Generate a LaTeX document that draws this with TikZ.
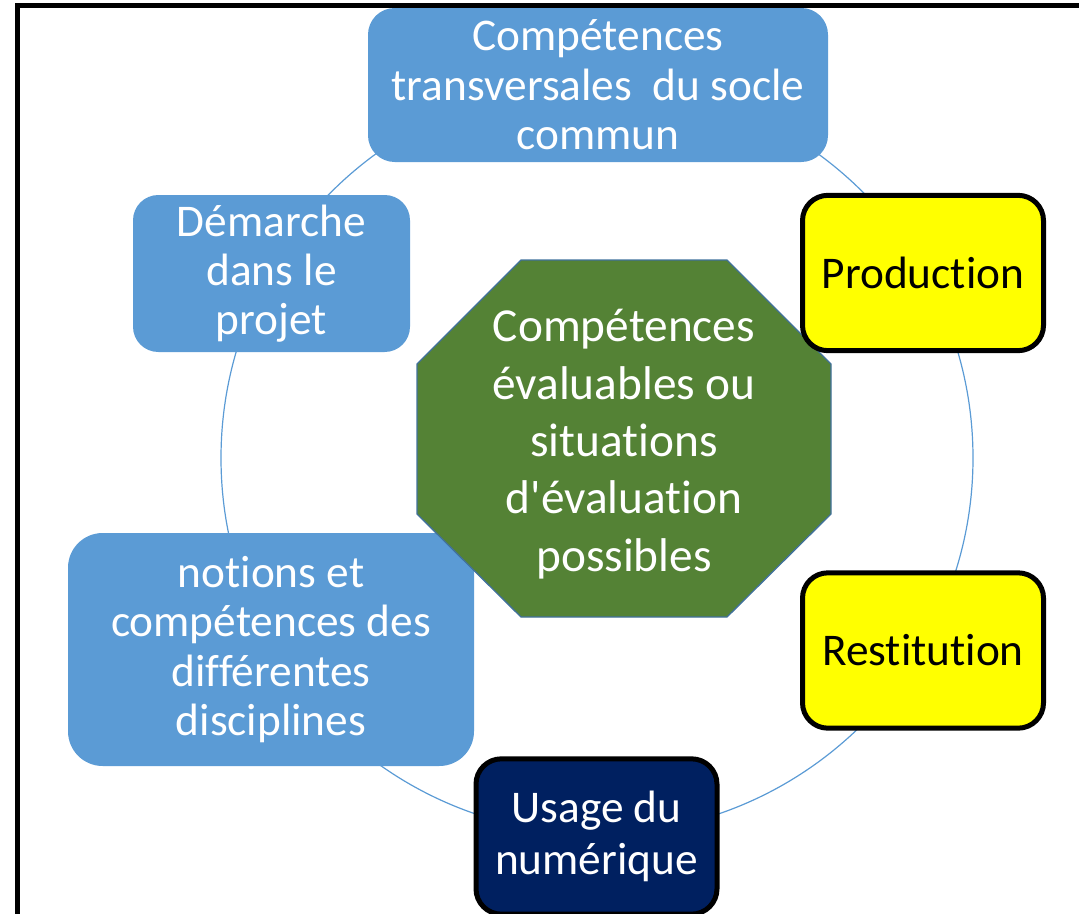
\documentclass[tikz,border=0pt]{standalone}
\usepackage{fontspec}
\setmainfont{Carlito}[Ligatures={TeXOff,NoCommon,NoRare},Contextuals=NoAlternate]
\usetikzlibrary{shapes,positioning}
\definecolor{boxblue}{HTML}{5B9BD5}
\definecolor{boxyellow}{HTML}{FFFF00}
\definecolor{octgreen}{HTML}{548235}
\definecolor{octline}{HTML}{41719C}
\definecolor{navy}{HTML}{002060}
\tikzstyle{bluebox} = [fill=boxblue, text=white, rectangle, rounded corners=20pt,
    inner sep=0pt, align=center, font=\fontsize{34}{37}\selectfont]
\tikzstyle{yellowbox} = [draw=black, line width=3.75pt, fill=boxyellow, rectangle,
    rounded corners=19pt, minimum width=180.75pt, minimum height=116.5pt,
    inner sep=0pt, align=center, font=\fontsize{34}{37}\selectfont]
\tikzstyle{navybox} = [yellowbox, fill=navy, text=white, font=\fontsize{34}{38.5}\selectfont]
\tikzstyle{octtext} = [text=white, align=center, inner sep=0pt,
    font=\fontsize{35.5}{43}\selectfont]
\tikzstyle{ring} = [draw=boxblue, line width=0.9pt]

\begin{document}
\begin{tikzpicture}[x=0.75pt, y=-0.75pt]
    \clip (0,0) rectangle (1079,914);
    % the frame runs off the page on the right and at the bottom
    \draw [line width=3.5pt] (17.5,5.5) rectangle (1120,960);

    % The ring goes first, the boxes sit on top of it
    \coordinate (ringc) at (597,458);
    \draw [ring] (ringc) circle [radius=282pt];

    \node [bluebox, minimum width=345pt, minimum height=115.5pt] (socle) at (598,85)
        {Compétences\\transversales\ \ du socle\\commun};
    \node [bluebox, rounded corners=19pt, minimum width=207.75pt, minimum height=117.75pt]
        (demarche) at (271.5,273.5) {Démarche\\dans le\\projet};
    \node [bluebox, rounded corners=26pt, minimum width=304.5pt, minimum height=174.75pt]
        (notions) at (271,649.5) {notions et\\compétences des\\différentes\\disciplines};

    % octagon in the middle
    \draw [octline, fill=octgreen, line width=1pt]
        (521,260) -- (727,260) -- (831,364) -- (831,514) -- (727,617)
        -- (521,617) -- (417,514) -- (417,364) -- cycle;
    \node [octtext] (centre) at (624,444)
        {Compétences\\évaluables ou\\situations\\d'évaluation\\possibles};

    \node [yellowbox] (production) at (923,273) {Production};
    \node [yellowbox] (restitution) at (923,650.5) {Restitution};
    \node [navybox] (usage) at (596.5,836.5) {Usage du\\numérique};
\end{tikzpicture}
\end{document}
